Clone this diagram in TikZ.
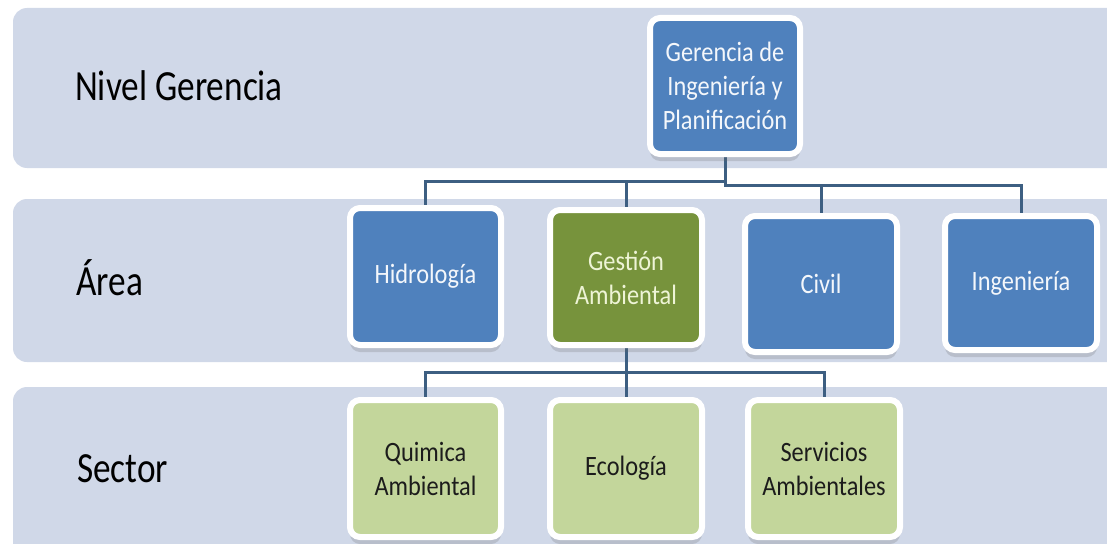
\documentclass[tikz,border=0pt]{standalone}
\usepackage{fontspec}
\setmainfont{Carlito}
\newfontfamily\lblfont[FakeStretch=0.82]{Carlito}
\newfontfamily\bxfont[FakeStretch=0.87]{Carlito}
\usetikzlibrary{shadows}
\definecolor{bandc}{HTML}{D0D8E8}
\definecolor{bluec}{HTML}{4F81BD}
\definecolor{greenc}{HTML}{77933C}
\definecolor{lgreenc}{HTML}{C3D69B}
\definecolor{connc}{HTML}{3D5F82}
\definecolor{gtext}{HTML}{EEF4D6}
\definecolor{btext}{HTML}{F4F7FB}
\definecolor{dtext}{HTML}{1C1C1C}
\pgfdeclarelayer{bg}
\pgfdeclarelayer{mid}
\pgfsetlayers{bg,mid,main}
\tikzset{
  band/.style={fill=bandc, draw=none, rounded corners=14pt},
  lbl/.style={anchor=base west, inner sep=0pt, font=\lblfont\fontsize{43}{50}\selectfont, text=black},
  boxbase/.style={draw=white, line width=6pt, rounded corners=10pt, inner sep=0pt,
    align=center, font=\bxfont\fontsize{28}{34}\selectfont,
    drop shadow={shadow xshift=0pt, shadow yshift=-7pt, opacity=0.22, fill=black!60}},
  bluebox/.style={boxbase, fill=bluec, text=btext},
  greenbox/.style={boxbase, fill=greenc, text=gtext},
  lgbox/.style={boxbase, fill=lgreenc, text=dtext},
  conn/.style={draw=connc, line width=3pt}
}
\begin{document}
\begin{tikzpicture}[x=1pt, y=-1pt]
\useasboundingbox (0,0) rectangle (1107,543);
\clip (0,0) rectangle (1107,543);
\begin{pgfonlayer}{bg}
  \fill[white] (0,0) rectangle (1107,543);
  \path[band] (13,8) rectangle (1140,168);
  \path[band] (13,199) rectangle (1140,362);
  \path[band] (13,387) rectangle (1140,580);
\end{pgfonlayer}

\node[lbl] (l1) at (75,100) {Nivel Gerencia};
\node[lbl] (l2) at (76,295) {Área};
\node[lbl] (l3) at (77,482) {Sector};

\node[bluebox, minimum width=150pt, minimum height=136pt] (top) at (725,86)
  {Gerencia de\\Ingeniería y\\Planificación};

\node[bluebox, minimum width=151pt, minimum height=137pt] (hid) at (425.5,276.5) {Hidrología};
\node[greenbox, minimum width=152pt, minimum height=135pt] (ges) at (626,277.5) {Gestión\\Ambiental};
\node[bluebox, minimum width=152pt, minimum height=136pt] (civ) at (821,284) {Civil};
\node[bluebox, minimum width=152pt, minimum height=134pt] (ing) at (1021,283) {Ingeniería};

\node[lgbox, minimum width=151pt, minimum height=137pt] (qui) at (425.5,468.5) {Quimica\\Ambiental};
\node[lgbox, minimum width=152pt, minimum height=137pt] (eco) at (626,468.5) {Ecología};
\node[lgbox, minimum width=152pt, minimum height=137pt] (ser) at (824,468.5) {Servicios\\Ambientales};

\coordinate (busA) at (725,181);
\coordinate (busB) at (725,185);
\coordinate (busC) at (626,372);

\begin{pgfonlayer}{mid}
  \draw[conn] (hid.north) |- (busA);
  \draw[conn] (ges.north) -- (ges.north |- busA);
  \draw[conn] (top.south) -- (busB) -| (ing.north);
  \draw[conn] (civ.north) -- (civ.north |- busB);
  \draw[conn] (ges.south) -- (busC);
  \draw[conn] (qui.north) |- (busC) -| (ser.north);
  \draw[conn] (eco.north) -- (busC);
\end{pgfonlayer}
\end{tikzpicture}
\end{document}
